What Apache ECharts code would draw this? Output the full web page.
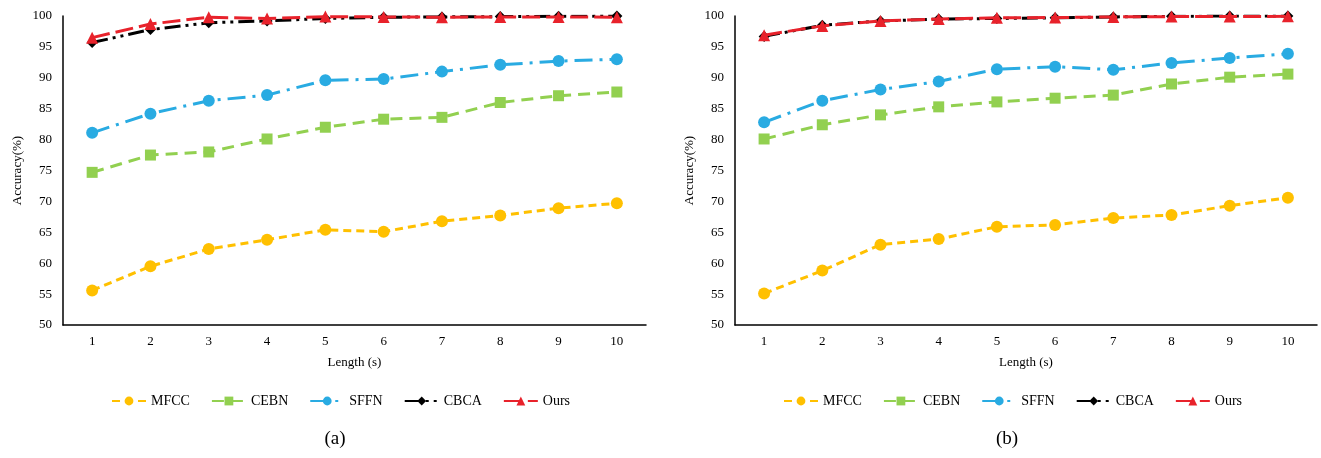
<!DOCTYPE html>
<html>
<head>
<meta charset="utf-8">
<script src="https://cdn.jsdelivr.net/npm/echarts@6/dist/echarts.min.js"></script>
<style>html,body{margin:0;padding:0;background:#fff}#c{width:1321px;height:458px}</style>
</head>
<body>
<div id="c"></div>
<script>
const categories = ['1','2','3','4','5','6','7','8','9','10'];
const seriesNames = ['MFCC','CEBN','SFFN','CBCA','Ours'];
// Panel (a)
const mfccA = [55.6, 59.5, 62.3, 63.8, 65.4, 65.1, 66.8, 67.7, 68.9, 69.7];
const cebnA = [74.7, 77.5, 78.0, 80.1, 82.0, 83.3, 83.6, 86.0, 87.1, 87.7];
const sffnA = [81.1, 84.2, 86.3, 87.2, 89.6, 89.8, 91.0, 92.1, 92.7, 93.0];
const cbcaA = [95.7, 97.8, 98.9, 99.2, 99.6, 99.8, 99.85, 99.9, 99.95, 100];
const oursA = [96.5, 98.7, 99.8, 99.6, 99.9, 99.85, 99.8, 99.85, 99.85, 99.8];
// Panel (b)
const mfccB = [55.1, 58.8, 63.0, 63.9, 65.9, 66.2, 67.3, 67.8, 69.3, 70.6];
const cebnB = [80.1, 82.4, 84.0, 85.3, 86.1, 86.7, 87.2, 89.0, 90.1, 90.6];
const sffnB = [82.8, 86.3, 88.1, 89.4, 91.4, 91.8, 91.3, 92.4, 93.2, 93.9];
const cbcaB = [96.7, 98.5, 99.2, 99.5, 99.6, 99.7, 99.85, 99.95, 100, 100];
const oursB = [96.9, 98.4, 99.2, 99.5, 99.7, 99.75, 99.85, 99.9, 99.9, 99.95];
const yTicks = [50, 55, 60, 65, 70, 75, 80, 85, 90, 95, 100];

const FONT = 'Liberation Serif';
const styles = {
  MFCC: {color:'#FFC000', symbol:'circle', size:12, dash:[8,5]},
  CEBN: {color:'#92D050', symbol:'rect', size:11, dash:[12,7]},
  SFFN: {color:'#29ABE2', symbol:'circle', size:12, dash:[18,7,3,7]},
  CBCA: {color:'#000000', symbol:'diamond', size:11, dash:[16,5,3,5,3,5]},
  Ours: {color:'#E8222B', symbol:'triangle', size:12, dash:[18,6]}
};
const dataA = {MFCC:mfccA, CEBN:cebnA, SFFN:sffnA, CBCA:cbcaA, Ours:oursA};
const dataB = {MFCC:mfccB, CEBN:cebnB, SFFN:sffnB, CBCA:cbcaB, Ours:oursB};

function mkSeries(data, idx) {
  return seriesNames.map((n, i) => ({
    name: n, type: 'line', xAxisIndex: idx, yAxisIndex: idx,
    data: data[n], symbol: styles[n].symbol, symbolSize: styles[n].size,
    showAllSymbol: true, z: 2 + i,
    itemStyle: {color: styles[n].color},
    lineStyle: {color: styles[n].color, width: 3, type: styles[n].dash},
    animation: false
  }));
}
function xAx(idx) {
  return {
    type: 'category', gridIndex: idx, data: categories, boundaryGap: true,
    name: 'Length (s)', nameLocation: 'middle', nameGap: 31,
    nameTextStyle: {fontFamily: FONT, fontSize: 13, color: '#000'},
    axisLine: {lineStyle: {color: '#000', width: 1.5}},
    axisTick: {show: false},
    axisLabel: {fontFamily: FONT, fontSize: 13, color: '#000', margin: 10}
  };
}
function yAx(idx) {
  return {
    type: 'value', gridIndex: idx, min: yTicks[0], max: yTicks[yTicks.length-1], interval: 5,
    name: 'Accuracy(%)', nameLocation: 'middle', nameGap: 39,
    nameTextStyle: {fontFamily: FONT, fontSize: 13, color: '#000'},
    axisLine: {show: true, lineStyle: {color: '#000', width: 1.5}},
    axisTick: {show: false}, splitLine: {show: false},
    axisLabel: {fontFamily: FONT, fontSize: 13, color: '#000', margin: 11}
  };
}
function legend(left) {
  return {
    data: seriesNames, left: left, top: 389, itemGap: 21, itemWidth: 34, itemHeight: 11,
    textStyle: {fontFamily: FONT, fontSize: 14, color: '#000'}
  };
}
const chart = echarts.init(document.getElementById('c'));
chart.setOption({
  animation: false,
  title: [
    {text: '(a)', left: 330, top: 425, textAlign: 'center', textStyle: {fontFamily: FONT, fontSize: 19, fontWeight: 'normal', color: '#000'}},
    {text: '(b)', left: 1002, top: 425, textAlign: 'center', textStyle: {fontFamily: FONT, fontSize: 19, fontWeight: 'normal', color: '#000'}}
  ],
  legend: [legend(106), legend(778)],
  grid: [
    {left: 63, top: 16, width: 583, height: 309},
    {left: 735, top: 16, width: 582, height: 309}
  ],
  xAxis: [xAx(0), xAx(1)],
  yAxis: [yAx(0), yAx(1)],
  series: mkSeries(dataA, 0).concat(mkSeries(dataB, 1))
});
</script>
</body>
</html>
